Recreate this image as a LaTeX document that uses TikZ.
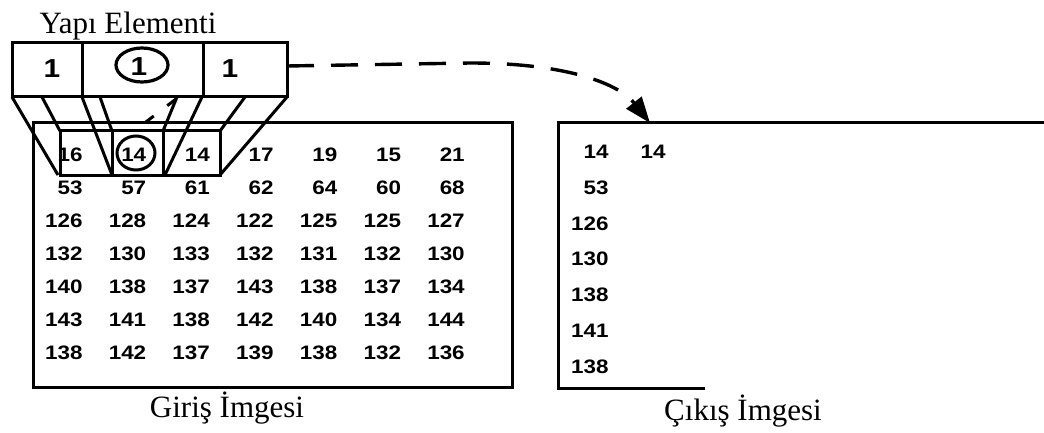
\documentclass[tikz,border=0pt]{standalone}
\usepackage{fontspec}
\usepackage{graphicx}
\setmainfont{Liberation Serif}
\newfontfamily\numfont{Liberation Sans}
\newcommand\wide[1]{\scalebox{1.15}[1]{#1}}
\usetikzlibrary{arrows.meta}
\begin{document}
\begin{tikzpicture}[x=1pt,y=-1pt,line width=3pt,
  num/.style={font=\numfont\bfseries\fontsize{19.5}{19.5}\selectfont,inner sep=0pt,anchor=base east},
  senum/.style={font=\numfont\bfseries\fontsize{26}{26}\selectfont,inner sep=0pt},
  lbl/.style={font=\fontsize{31}{31}\selectfont,inner sep=0pt,anchor=base},
  frame/.style={line width=3pt},
  proj/.style={line width=3pt},
  flow/.style={line width=3.4pt,dash pattern=on 27pt off 17pt,-{Triangle[length=26pt,width=19pt]}}]
\useasboundingbox (0,0) rectangle (1044,433);
% labels
\node[lbl] (lse) at (128,33.5) {Yapı Elementi};
\node[lbl] (lin) at (227,417) {Giriş İmgesi};
\node[lbl] (lout) at (743,420) {Çıkış İmgesi};
% structuring element
\draw[frame] (12,43) rectangle (287,97);
\draw[frame] (82,43) -- (82,97);
\draw[frame] (203,43) -- (203,97);
\node[senum] (s1) at (52,69) {\wide{1}};
\node[senum] (s2) at (139,67) {\wide{1}};
\node[senum] (s3) at (230,69) {\wide{1}};
\draw[line width=3.2pt] (142,65) ellipse [x radius=26pt, y radius=17pt];
\coordinate (seout) at (287,66);
% input image frame
\draw[frame] (33,123) rectangle (512,387);
% small boxes
\draw[frame] (60,131) rectangle (112,175);
\draw[frame] (112,131) rectangle (163,175);
\draw[frame] (163,131) rectangle (220,175);
\draw[line width=3pt] (136,153) ellipse [x radius=19pt, y radius=17pt];
% projection lines
\draw[proj] (12,97) -- (58,175);
\draw[proj] (42,97) -- (60,131);
\draw[proj] (82,97) -- (112,175);
\draw[proj] (100,97) -- (112,131);
\draw[proj] (177,97) -- (163,131);
\draw[proj] (202,97) -- (165,175);
\draw[proj] (245,97) -- (220,131);
\draw[proj] (287,97) -- (220,175);
\draw[line width=3pt,dash pattern=on 11pt off 17pt] (176,99) -- (142,125);
% input values
\foreach \row [count=\r] in {{16,14,14,17,19,15,21},{53,57,61,62,64,60,68},{126,128,124,122,125,125,127},{132,130,133,132,131,132,130},{140,138,137,143,138,137,134},{143,141,138,142,140,134,144},{138,142,137,139,138,132,136}}{
  \foreach \v [count=\c] in \row {
    \node[num] (g\r-\c) at ({84+63.7*(\c-1)},{161.5+33*(\r-1)}) {\wide{\v}};
  }
}
% output image frame
\coordinate (outtl) at (558,123);
\draw[frame] (1044,123) -- (outtl) -- (558,388) -- (705,388);
\coordinate (outin) at (650,123);
\foreach \v [count=\r] in {14,53,126,130,138,141,138}{
  \node[num] (o\r) at (610,{158.5+35.8*(\r-1)}) {\wide{\v}};
}
\node[num] (o1b) at (667,158.5) {\wide{14}};
% arrow
\draw[flow] (seout) -- (470,63) .. controls (570,63) and (620,85) .. (outin);
\end{tikzpicture}
\end{document}
